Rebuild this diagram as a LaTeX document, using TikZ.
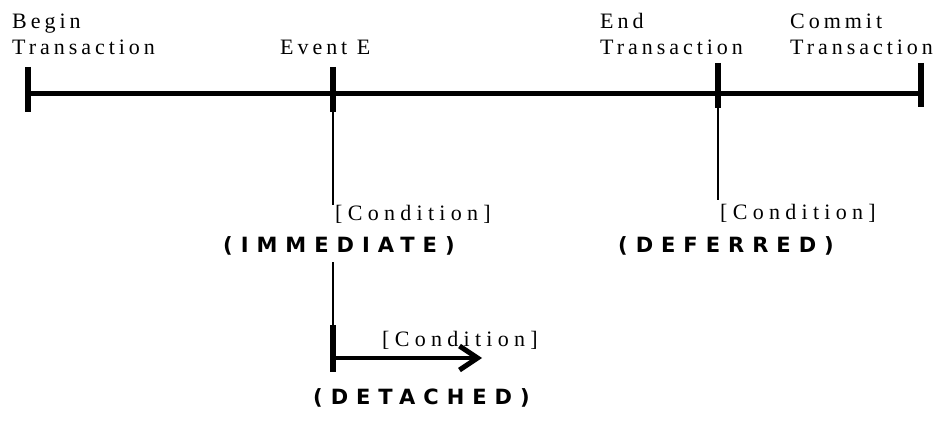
\documentclass[tikz,border=0pt]{standalone}
\usepackage{fontspec}
\setmainfont{Liberation Serif}
\newfontfamily\lblfont[LetterSpace=18]{Liberation Serif}
\newfontfamily\condfont[LetterSpace=24]{Liberation Serif}
\newfontfamily\modefont[LetterSpace=38]{DejaVu Sans}
\usetikzlibrary{arrows.meta}
\begin{document}
\begin{tikzpicture}[x=1pt,y=1pt,
  lbl/.style={inner sep=0pt,anchor=base west,font=\fontsize{22}{22}\lblfont},
  cond/.style={inner sep=0pt,anchor=base west,font=\fontsize{22}{22}\condfont},
  mode/.style={inner sep=0pt,anchor=base west,font=\fontsize{21}{21}\modefont\bfseries},
  axis/.style={line width=5pt},
  tick/.style={line width=6pt},
  thin/.style={line width=1.4pt},
  arr/.style={line width=4.5pt,-{Straight Barb[length=18pt,width=24pt,line width=5pt]}}]
\useasboundingbox (0,0) rectangle (936,426);
% timeline points
\coordinate (b) at (28,332);
\coordinate (e) at (333,332);
\coordinate (n) at (718,332);
\coordinate (c) at (921,332);
\coordinate (bt) at (28,359); \coordinate (bb) at (28,314);
\coordinate (et) at (333,359); \coordinate (eb) at (333,314);
\coordinate (nt) at (718,363); \coordinate (nb) at (718,318);
\coordinate (ct) at (921,363); \coordinate (cb) at (921,319);
\draw[axis] (b) -- (c);
\draw[tick] (bt) -- (bb);
\draw[tick] (et) -- (eb);
\draw[tick] (nt) -- (nb);
\draw[tick] (ct) -- (cb);
% labels
\node[lbl] (begin) at (12,397) {Begin};
\node[lbl] (begin2) at (12,371) {Transaction};
\node[lbl] (ev) at (280,371) {Event E};
\node[lbl] (end) at (600,397) {End};
\node[lbl] (end2) at (600,371) {Transaction};
\node[lbl] (com) at (790,397) {Commit};
\node[lbl] (com2) at (790,371) {Transaction};
% immediate
\coordinate (e1) at (333,221);
\coordinate (e2) at (333,164);
\coordinate (e3) at (333,101);
\coordinate (dt) at (333,101);
\coordinate (db) at (333,54);
\coordinate (da) at (333,68);
\coordinate (dz) at (482,68);
\draw[thin] (e) -- (e1);
\node[cond] (c1) at (335,205) {[Condition]};
\node[mode] (imm) at (223,174) {(IMMEDIATE)};
\draw[thin] (e2) -- (e3);
\draw[tick] (dt) -- (db);
\draw[arr] (da) -- (dz);
\node[cond] (c2) at (382,80) {[Condition]};
\node[mode] (det) at (313,22) {(DETACHED)};
% deferred
\coordinate (n1) at (718,226);
\draw[thin] (n) -- (n1);
\node[cond] (c3) at (720,206) {[Condition]};
\node[mode] (def) at (618,174) {(DEFERRED)};
\end{tikzpicture}
\end{document}
